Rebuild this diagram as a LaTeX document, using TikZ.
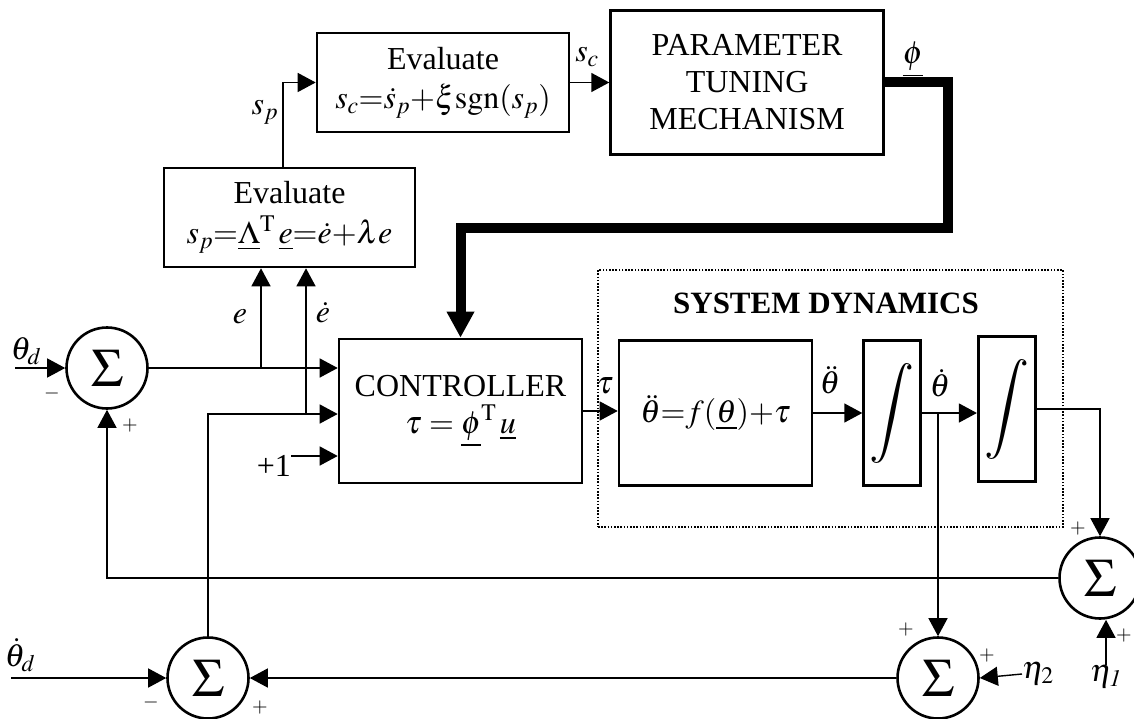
\documentclass[tikz,border=0pt]{standalone}
\usepackage{mathptmx}
\usepackage{fontspec}
\setmainfont{Liberation Serif}
\usetikzlibrary{arrows.meta, positioning}

\begin{document}
\begin{tikzpicture}[
    x=1pt, y=-1pt,
    font=\fontsize{32}{37}\selectfont,
    block/.style={rectangle, draw, line width=2.6pt, align=center, inner sep=0pt},
    intbox/.style={block, minimum width=57pt, minimum height=145pt, font=\fontsize{50}{50}\selectfont},
    sumnode/.style={circle, draw, line width=2.6pt, minimum size=81pt, inner sep=0pt, font=\fontsize{54}{54}\selectfont},
    sysframe/.style={rectangle, draw, line width=1.6pt, dash pattern=on 1.6pt off 1.6pt, inner sep=0pt},
    arrow/.style={-{Triangle[length=18pt, width=19pt]}, line width=1.4pt},
    bus/.style={-{Triangle[length=26pt, width=26pt]}, line width=10pt, line join=miter},
    lbl/.style={inner sep=0pt},
    sgn/.style={inner sep=0pt, font=\fontsize{20}{20}\selectfont}
]
\useasboundingbox (0,0) rectangle (1134,719);

% Nodes
\node[block, minimum width=252pt, minimum height=99pt] (eval_c) at (443,82.5) {Evaluate\\[2pt]$s_c{=}\dot{s}_p{+}\xi\mathrm{sgn}(s_p)$};
\node[block, minimum width=273pt, minimum height=144pt, right=39pt of eval_c] (tuning) {PARAMETER\\TUNING\\MECHANISM};
\node[block, minimum width=251pt, minimum height=99pt] (eval_p) at (289.5,217.5) {Evaluate\\[3pt]$s_p{=}\underline{\Lambda}^{\mathrm{T}}\,\underline{e}{=}\dot{e}{+}\lambda e$};

\node[block, minimum width=243pt, minimum height=144pt] (ctrl) at (460.5,411) {CONTROLLER\\$\tau = \underline{\phi}^{\mathrm{T}}\,\underline{u}$};

\node[sysframe, minimum width=465pt, minimum height=257pt] (sys) at (830.5,398.5) {};
\node[lbl, font=\fontsize{31}{36}\selectfont\bfseries] (sys_title) at (826,303) {SYSTEM DYNAMICS};
\node[block, minimum width=193pt, minimum height=145pt] (dyn) at (715.5,413) {$\ddot{\theta}{=}f(\underline{\theta}){+}\tau$};
\node[intbox, right=49pt of dyn] (int_a) {$\displaystyle\int$};
\node[intbox, right=55pt of int_a, yshift=4pt] (int_b) {$\displaystyle\int$};

\node[sumnode] (sum_e) at (107,368) {$\Sigma$};
\node[sumnode] (sum_v) at (208,678) {$\Sigma$};
\node[sumnode] (sum_n) at (938,678) {$\Sigma$};
\node[sumnode] (sum_o) at (1100,578) {$\Sigma$};

\coordinate (thd_in) at (15,368);
\coordinate (thdd_in) at (11,678);
\coordinate (ebranch) at (261,368);
\coordinate (edot) at (306,414);
\coordinate (thdot) at (938,413);
\coordinate (bus_a) at (948,228);

% Labels
\node[lbl] (l_sp) at (265,112) {$s_p$};
\node[lbl] (l_sc) at (587,57) {$s_c$};
\node[lbl] (l_phi) at (913,60) {$\underline{\phi}$};
\node[lbl] (l_e) at (240,317) {$e$};
\node[lbl] (l_ed) at (323,313) {$\dot{e}$};
\node[lbl] (l_thd) at (26,351) {$\theta_d$};
\node[lbl] (l_thdd) at (20,655) {$\dot{\theta}_d$};
\node[lbl, anchor=east] (one) at (291,466) {+1};
\node[lbl] (l_tau) at (605,386) {$\tau$};
\node[lbl] (l_thdd2) at (830,380) {$\ddot{\theta}$};
\node[lbl] (l_thd1) at (940,383) {$\dot{\theta}$};
\node[lbl] (eta2) at (1038,674) {$\eta_2$};
\node[lbl] (eta1) at (1106,677) {$\eta_{\mathit{1}}$};

\node[sgn] at (52,393) {$-$};
\node[sgn] at (130,426) {$+$};
\node[sgn] at (151,702) {$-$};
\node[sgn] at (260,707) {$+$};
\node[sgn] at (906,629) {$+$};
\node[sgn] at (987,655) {$+$};
\node[sgn] at (1078,529) {$+$};
\node[sgn] at (1124,635) {$+$};

% Arrows
\draw[arrow] ([xshift=-6.5pt]eval_p.north) |- (eval_c.west);
\draw[arrow] (eval_c) -- (tuning);
\draw[bus] (tuning.east) -| (bus_a) -| (ctrl.north);

\draw[arrow] (thd_in) -- (sum_e);
\draw[arrow] (sum_e.east) -- (sum_e.east -| ctrl.west);
\draw[arrow] (ebranch) -- (ebranch |- eval_p.south);
\draw[arrow] (edot) -- (edot |- eval_p.south);
\draw[arrow] (sum_v.north) |- (ctrl.west |- edot);
\draw[arrow] ([yshift=10pt]one.east) -- ([yshift=10pt]one.east -| ctrl.west);

\draw[arrow] (ctrl.east) -- (ctrl.east -| dyn.west);
\draw[arrow] (dyn) -- (int_a);
\draw[arrow] (int_a.east) -- (int_a.east -| int_b.west);
\draw[arrow] (int_b.east) -| (sum_o.north);
\draw[arrow] (thdot) -- (sum_n.north);

\draw[arrow] (sum_o.west) -| (sum_e.south);
\draw[arrow] (eta1.north) -- (eta1.north |- sum_o.south);
\draw[arrow] (eta2.west) -- (sum_n.east);
\draw[arrow] (sum_n.west) -- (sum_v.east);
\draw[arrow] (thdd_in) -- (sum_v.west);

\end{tikzpicture}
\end{document}
